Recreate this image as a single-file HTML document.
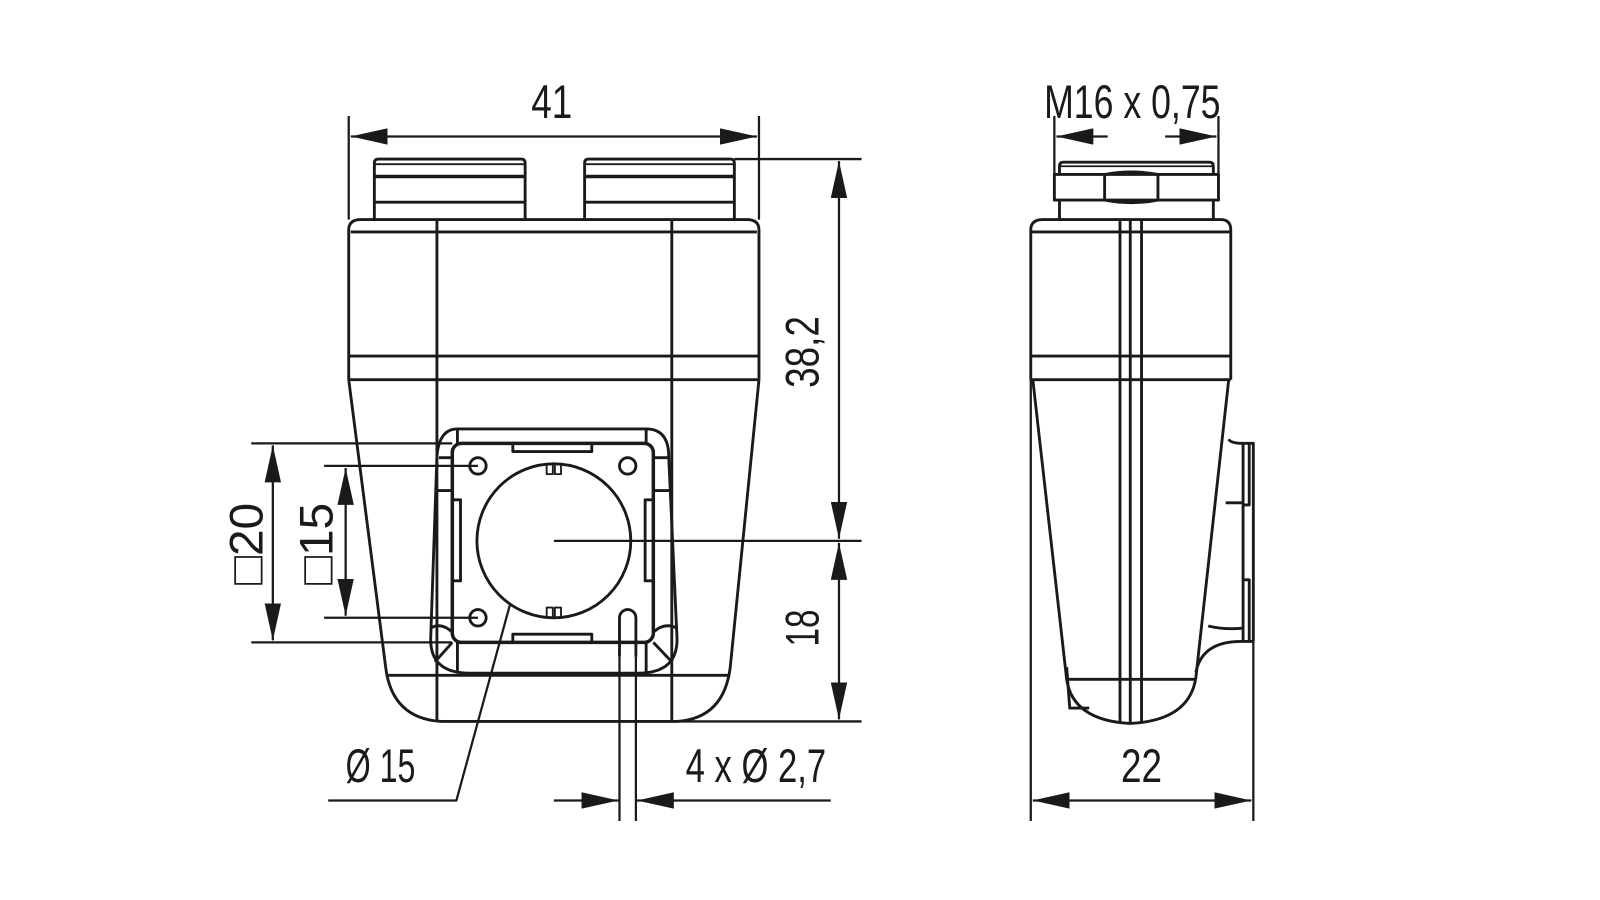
<!DOCTYPE html>
<html><head><meta charset="utf-8"><style>
html,body{margin:0;padding:0;background:#fff;width:1600px;height:900px;overflow:hidden}
svg{display:block}
text{font-family:"Liberation Sans","DejaVu Sans",sans-serif;fill:#1a1a1a}
</style></head><body>
<svg width="1600" height="900" viewBox="0 0 1560 877" preserveAspectRatio="none" xmlns="http://www.w3.org/2000/svg">
<defs>
<marker id="a" viewBox="0 0 36 16" refX="36" refY="8" markerWidth="36" markerHeight="16" markerUnits="userSpaceOnUse" orient="auto-start-reverse"><path d="M0,0 L36,8 L0,16 Z" fill="#1a1a1a"/></marker>
</defs>
<g fill="none" stroke="#1a1a1a" stroke-width="2.8" stroke-linejoin="round">
<!-- FRONT VIEW -->
<path d="M365,214 V159 Q365,155 369,155 H508 Q512,155 512,159 V214"/>
<path d="M570,214 V159 Q570,155 574,155 H712 Q716,155 716,159 V214"/>
<path d="M365,160 H512 M570,160 H716" stroke-width="1.8"/>
<path d="M365,172 H512 M570,172 H716" stroke-width="3.4"/>
<path d="M365,197 H512 M570,197 H716"/>
<path d="M340,370 V224 Q340,214 352,214 H728 Q740,214 740,224 V370"/>
<path d="M342,226 H738"/>
<path d="M426,214 V703 M655,214 V703"/>
<path d="M340,347 H740 M340,370 H740"/>
<path d="M340,370 L376,650 Q382,700 430,703 H660 Q706,700 712,650 L740,370"/>
<path d="M376,658 H712"/>
<path d="M446,418 H630 Q652,418 652,445 L660,620 Q662,656 622,656 H458 Q418,656 420,620 L426,445 Q428,418 446,418 Z"/>
<path d="M446,418 V432 M630,418 V432 M428,446 H441 M638,446 H652 M420,612 Q430,606 441,616 M660,612 Q648,606 637,616 M441,626 L424,645 M637,626 L655,645 M446,626 V656 M630,626 V656 M426,478 H441 M655,478 H637"/>
<rect x="441" y="432" width="196" height="194" rx="9" stroke-width="3.4"/>
<path d="M500,432 V440 H577 V432 M500,626 V618 H577 V626 M441,487 H449 V566 H441 M637,487 H629 V566 H637"/>
<circle cx="466" cy="454" r="8"/><circle cx="612" cy="454" r="8"/><circle cx="466" cy="602" r="8"/>
<path d="M604,640 V602 A8,8 0 0 1 620,602 V640"/>
<circle cx="540" cy="527" r="75"/>
<path d="M533,453 V462 H539 V453 M541,453 V462 H547 V453 M533,601 V592 H539 V601 M541,601 V592 H547 V601" stroke-width="1.8"/>
<g stroke-width="2.2">
<path d="M340,113 V214 M740,113 V214"/>
<path d="M342,133 H738" marker-start="url(#a)" marker-end="url(#a)"/>
<path d="M716,155 H840 M540,527 H840 M660,703 H840"/>
<path d="M818,157 V525" marker-start="url(#a)" marker-end="url(#a)"/>
<path d="M818,529 V701" marker-start="url(#a)" marker-end="url(#a)"/>
<path d="M245,432 H441 M245,626 H441 M316,454 H466 M316,602 H466"/>
<path d="M266,434 V624" marker-start="url(#a)" marker-end="url(#a)"/>
<path d="M337,456 V600" marker-start="url(#a)" marker-end="url(#a)"/>
<path d="M497,590 L445,780 H320"/>
<path d="M604,640 V800 M620,640 V800"/>
<path d="M540,780 H603" marker-end="url(#a)"/>
<path d="M810,780 H621" marker-end="url(#a)"/>
</g>
<!-- SIDE VIEW -->
<path d="M1033,170 V162 Q1033,158 1037,158 H1179 Q1183,158 1183,162 V170"/>
<path d="M1033,162 H1183" stroke-width="1.8"/>
<rect x="1028" y="170" width="160" height="25"/>
<path d="M1077,170 V195 M1129,170 V195 M1077,170 Q1103,165 1129,170 M1077,195 Q1103,200 1129,195"/>
<path d="M1033,195 V214 M1183,195 V214"/>
<path d="M1005,370 V224 Q1005,214 1017,214 H1190 Q1200,214 1200,224 V370"/>
<path d="M1006,226 H1199 M1005,347 H1200 M1005,370 H1200"/>
<path d="M1092,214 V705 M1102,214 V705 M1113,214 V705"/>
<path d="M1007,370 L1040,662 Q1046,702 1102,705 Q1160,702 1166,660 L1198,370"/>
<path d="M1040,662 H1166"/>
<path d="M1040,650 L1043,690 H1062"/>
<path d="M1166,655 Q1172,625 1210,625 H1222 M1198,428 Q1200,432 1212,432 H1222 V625 M1212,432 V625 M1212,492 H1218 V432 M1212,565 H1218 V625 M1195,490 H1212 M1178,610 Q1195,614 1212,612"/>
<g stroke-width="2.2">
<path d="M1028,113 V170 M1188,113 V170"/>
<path d="M1080,133 H1030" marker-end="url(#a)"/>
<path d="M1136,133 H1186" marker-end="url(#a)"/>
<path d="M1005,370 V800 M1222,625 V800"/>
<path d="M1007,780 H1220" marker-start="url(#a)" marker-end="url(#a)"/>
</g>
</g>
<g font-size="46">
<text x="538" y="115" text-anchor="middle" textLength="40" lengthAdjust="spacingAndGlyphs">41</text>
<text x="1104" y="115" text-anchor="middle" textLength="172" lengthAdjust="spacingAndGlyphs">M16 x 0,75</text>
<text transform="translate(798,343) rotate(-90)" text-anchor="middle" textLength="70" lengthAdjust="spacingAndGlyphs">38,2</text>
<text transform="translate(798,612) rotate(-90)" text-anchor="middle" textLength="36" lengthAdjust="spacingAndGlyphs">18</text>
<text transform="translate(256,530) rotate(-90)" text-anchor="middle" textLength="80" lengthAdjust="spacingAndGlyphs">□20</text>
<text transform="translate(324,530) rotate(-90)" text-anchor="middle" textLength="80" lengthAdjust="spacingAndGlyphs">□15</text>
<text x="371" y="762" text-anchor="middle" textLength="68" lengthAdjust="spacingAndGlyphs">Ø 15</text>
<text x="737" y="762" text-anchor="middle" textLength="137" lengthAdjust="spacingAndGlyphs">4 x Ø 2,7</text>
<text x="1113" y="762" text-anchor="middle" textLength="40" lengthAdjust="spacingAndGlyphs">22</text>
</g>
</svg>
</body></html>
